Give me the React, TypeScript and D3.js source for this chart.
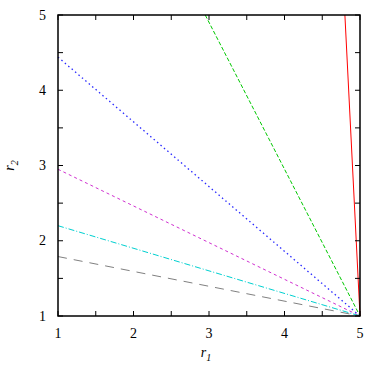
import * as d3 from "d3";

// r1 value where each curve starts (at r2 = 5) or r2 value at r1 = 1; all end at (5, 1)
const seriesNames = ["red", "green", "blue", "magenta", "cyan", "gray"];
const startX = [4.8, 2.95, 1, 1, 1, 1];
const startY = [5, 5, 4.44, 2.95, 2.2, 1.79];
const endX = [5, 5, 5, 5, 5, 5];
const endY = [1, 1, 1, 1, 1, 1];
const colors = ["#ff0000", "#00c800", "#2a2aff", "#d030d0", "#00d0d0", "#808080"];
const dashes = ["", "4,2", "1.5,3", "3,3", "6,2,1,2", "9,7"];

const xTicks = [1, 2, 3, 4, 5];
const yTicks = [1, 2, 3, 4, 5];
const minorTicks = [1.5, 2.5, 3.5, 4.5];

export default function App() {
  const width = 382;
  const height = 370;
  const left = 58, right = 360, top = 15, bottom = 316;

  const x = d3.scaleLinear().domain([1, 5]).range([left, right]);
  const y = d3.scaleLinear().domain([1, 5]).range([bottom, top]);
  const line = d3.line<[number, number]>().x((d) => x(d[0])).y((d) => y(d[1]));

  const allTicks = [...xTicks, ...minorTicks];
  const tl = 5;

  return (
    <svg width={width} height={height} style={{ position: "absolute", left: 0, top: 0 }}
      fontFamily="'Liberation Serif', 'Times New Roman', serif" fontSize={14}>
      <rect width={width} height={height} fill="white" />

      {seriesNames.map((n, i) => (
        <path key={n}
          d={line([[startX[i], startY[i]], [endX[i], endY[i]]]) || ""}
          stroke={colors[i]} strokeWidth={n === "blue" ? 1.3 : 1} fill="none"
          strokeDasharray={dashes[i] || undefined} />
      ))}

      {/* ticks, all four sides, inward */}
      {allTicks.map((v) => (
        <g key={"t" + v} stroke="black" strokeWidth={1}>
          <line x1={x(v)} x2={x(v)} y1={bottom} y2={bottom - tl} />
          <line x1={x(v)} x2={x(v)} y1={top} y2={top + tl} />
          <line y1={y(v)} y2={y(v)} x1={left} x2={left + tl} />
          <line y1={y(v)} y2={y(v)} x1={right} x2={right - tl} />
        </g>
      ))}

      <rect x={left} y={top} width={right - left} height={bottom - top}
        fill="none" stroke="black" strokeWidth={1.5} />

      {xTicks.map((v) => (
        <text key={"xl" + v} x={x(v)} y={bottom + 22} textAnchor="middle">{v}</text>
      ))}
      {yTicks.map((v) => (
        <text key={"yl" + v} x={left - 12} y={y(v)} dy="0.33em" textAnchor="end">{v}</text>
      ))}

      <text x={x(3) - 3} y={bottom + 41} textAnchor="middle" fontStyle="italic">
        r<tspan fontSize={10} dy={4}>1</tspan>
      </text>
      <text transform={`translate(14, ${(top + bottom) / 2}) rotate(-90)`} textAnchor="middle" fontStyle="italic">
        r<tspan fontSize={10} dy={4}>2</tspan>
      </text>
    </svg>
  );
}
